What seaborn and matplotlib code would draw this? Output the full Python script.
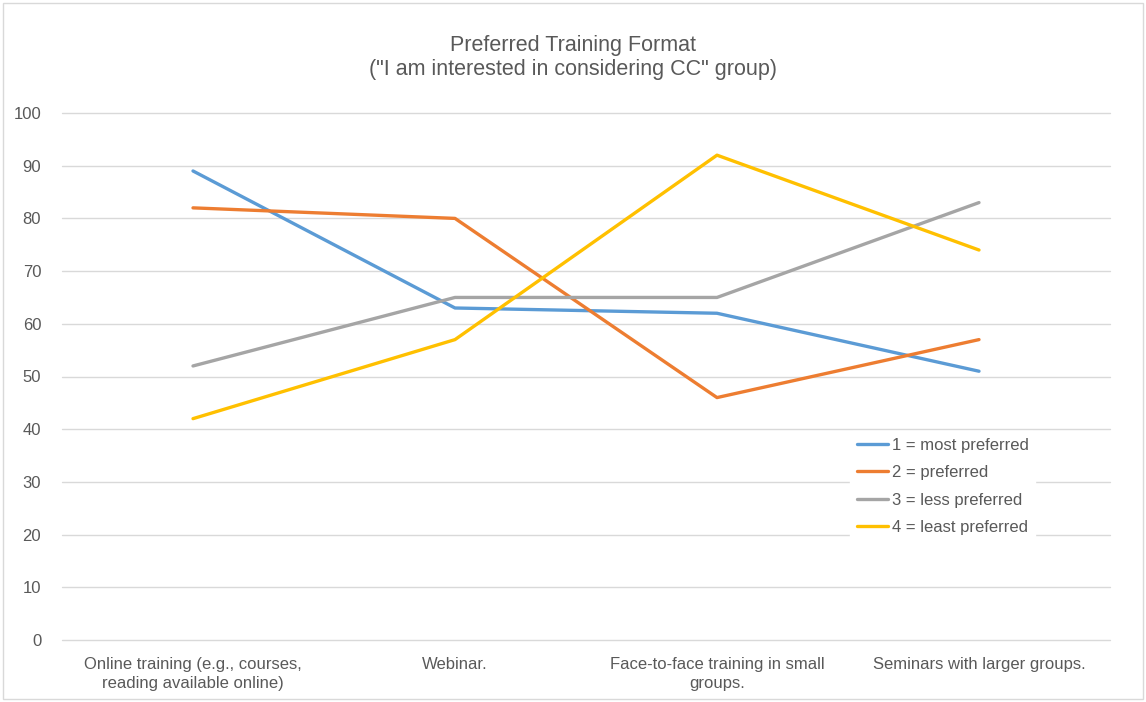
import matplotlib
matplotlib.use("Agg")
import matplotlib.pyplot as plt
import seaborn as sns
import pandas as pd
from matplotlib.patches import Rectangle

categories = ["Online training (e.g., courses,\nreading available online)",
              "Webinar.",
              "Face-to-face training in small\ngroups.",
              "Seminars with larger groups."]
series_names = ["1 = most preferred", "2 = preferred", "3 = less preferred", "4 = least preferred"]
most_preferred = [89, 63, 62, 51]
preferred = [82, 80, 46, 57]
less_preferred = [52, 65, 65, 83]
least_preferred = [42, 57, 92, 74]
colors = ["#5B9BD5", "#ED7D31", "#A5A5A5", "#FFC000"]

rows = []
for name, vals in zip(series_names, [most_preferred, preferred, less_preferred, least_preferred]):
    for i, v in enumerate(vals):
        rows.append({"pos": i, "series": name, "value": v})
df = pd.DataFrame(rows)

sns.set_theme(style="white")
plt.rcParams['font.family'] = ['Liberation Sans', 'DejaVu Sans']

fig = plt.figure(figsize=(11.46, 7.02), dpi=100)
ax = fig.add_axes([62/1146, 1-640/702, (1110-62)/1146, (640-113)/702])

sns.lineplot(data=df, x="pos", y="value", hue="series", hue_order=series_names,
             palette=colors, linewidth=2.4, ax=ax, sort=False)

ax.set_xlim(-0.5, 3.5)
ax.set_ylim(0, 100)
ax.set_yticks(range(0, 101, 10))
ax.set_xticks(range(len(categories)))
ax.set_xticklabels(categories, color="#595959", fontsize=12, linespacing=1.35)
ax.tick_params(axis="y", labelcolor="#595959", labelsize=12, length=0, pad=15)
ax.tick_params(axis="x", length=0, pad=12)
ax.grid(axis="y", color="#D9D9D9", linewidth=1)
for gl in ax.get_ygridlines():
    gl.set_clip_on(False)
ax.set_axisbelow(True)
for s in ax.spines.values():
    s.set_visible(False)
ax.set_xlabel("")
ax.set_ylabel("")

fig.text(0.5, 1-45/702, "Preferred Training Format", ha="center", va="center",
         fontsize=15.5, color="#595959")
fig.text(0.5, 1-69/702, "(\"I am interested in considering CC\" group)", ha="center", va="center",
         fontsize=15.5, color="#595959")

leg = ax.legend(loc="upper left", bbox_to_anchor=(0.752, 0.396), frameon=True,
                fontsize=12, handlelength=1.9, handletextpad=0.2, labelspacing=0.74,
                borderaxespad=0, borderpad=0.4)
leg.get_frame().set_facecolor("white")
leg.get_frame().set_edgecolor("white")
leg.get_frame().set_alpha(1)
for t in leg.get_texts():
    t.set_color("#595959")
for h in leg.get_lines():
    h.set_linewidth(2.4)

fig.patches.append(Rectangle((3/1146, 3/702), 1-6/1146, 1-6/702, transform=fig.transFigure,
                             fill=False, edgecolor="#D9D9D9", linewidth=1))

fig.savefig("out.png", dpi=100, facecolor="white")
